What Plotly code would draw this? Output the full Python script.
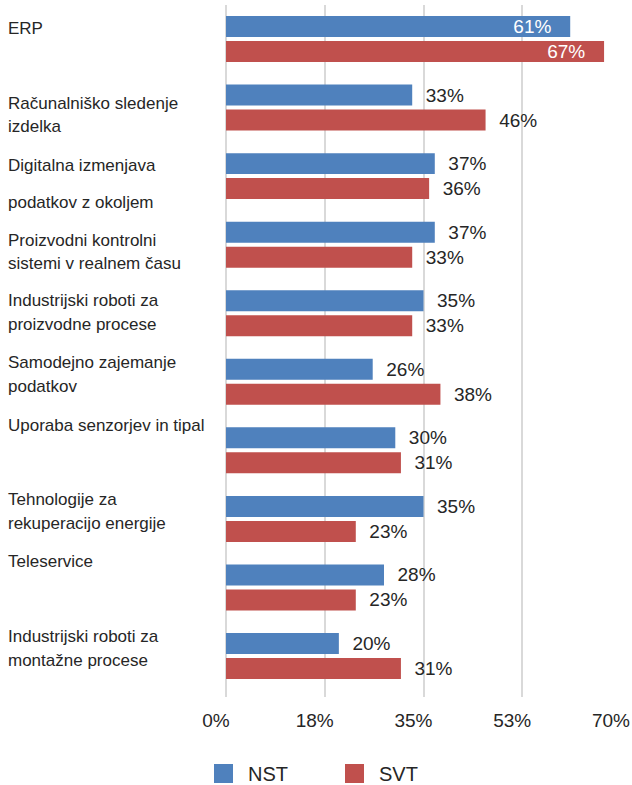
import plotly.graph_objects as go

# ---------------- data ----------------
CATEGORIES = [
    "ERP",
    "Računalniško sledenje izdelka",
    "Digitalna izmenjava podatkov z okoljem",
    "Proizvodni kontrolni sistemi v realnem času",
    "Industrijski roboti za proizvodne procese",
    "Samodejno zajemanje podatkov",
    "Uporaba senzorjev in tipal",
    "Tehnologije za rekuperacijo energije",
    "Teleservice",
    "Industrijski roboti za montažne procese",
]
NST = [61, 33, 37, 37, 35, 26, 30, 35, 28, 20]
SVT = [67, 46, 36, 33, 33, 38, 31, 23, 23, 31]
SERIES_NAMES = ["NST", "SVT"]
X_TICK_VALUES = [0, 17.5, 35, 52.5, 70]
X_TICK_LABELS = ["0%", "18%", "35%", "53%", "70%"]

# ---------------- styles / layout helpers ----------------
BLUE = "#4F81BD"
RED = "#C0504D"
SERIES_COLORS = [BLUE, RED]
TEXT = "#262626"
GRID = "#D9D9D9"
FONT = "Liberation Sans, Arial, Helvetica, sans-serif"
NBSP = "\u00a0"

# how the category labels are broken into lines, and each line's vertical
# offset (px, downward) from the centre of its category band
LABEL_LINES = [
    ["ERP"],
    ["Računalniško sledenje", "izdelka"],
    ["Digitalna izmenjava", "podatkov z okoljem"],
    ["Proizvodni kontrolni", "sistemi v realnem času"],
    ["Industrijski roboti za", "proizvodne procese"],
    ["Samodejno zajemanje", "podatkov"],
    ["Uporaba senzorjev in tipal"],
    ["Tehnologije za", "rekuperacijo energije"],
    ["Teleservice"],
    ["Industrijski roboti za", "montažne procese"],
]
LABEL_OFFSETS = [
    [-11],
    [-4, 19],
    [-11, 26],
    [-4, 19],
    [-13, 11],
    [-19, 5],
    [-25],
    [-19, 5],
    [-26],
    [-20, 4],
]
INSIDE_MIN = 60  # values at or above this get their label inside the bar

# plot-area geometry in pixels (used to place the hand-drawn legend)
W, H = 632, 785
M_L, M_R, M_T, M_B = 226, 11, 5, 88
PW, PH = W - M_L - M_R, H - M_T - M_B


def px_to_paper_x(px):
    return (px - M_L) / PW


def px_to_paper_y(py):
    return (H - M_B - py) / PH


def label_specs(values):
    pos, txt = [], []
    for v in values:
        if v >= INSIDE_MIN:
            pos.append("inside")
            txt.append(f"{v}%" + NBSP * 3)
        else:
            pos.append("outside")
            txt.append(NBSP * 2 + f"{v}%")
    return pos, txt


fig = go.Figure()
for name, vals, color in zip(SERIES_NAMES, [NST, SVT], SERIES_COLORS):
    pos, txt = label_specs(vals)
    fig.add_trace(
        go.Bar(
            name=name,
            y=CATEGORIES,
            x=vals,
            orientation="h",
            marker=dict(color=color, line=dict(width=0)),
            text=txt,
            texttemplate="%{text}",
            textposition=pos,
            insidetextanchor="end",
            insidetextfont=dict(color="white", size=19, family=FONT),
            outsidetextfont=dict(color=TEXT, size=19, family=FONT),
            constraintext="none",
            cliponaxis=False,
            hoverinfo="skip",
            showlegend=False,
        )
    )

annotations = []
for cat, lines, offs in zip(CATEGORIES, LABEL_LINES, LABEL_OFFSETS):
    for line, off in zip(lines, offs):
        annotations.append(
            dict(
                text=line,
                x=-0.557,
                xref="paper",
                xanchor="left",
                y=cat,
                yref="y",
                yanchor="middle",
                yshift=-off,
                showarrow=False,
                align="left",
                font=dict(size=17, color=TEXT, family=FONT),
            )
        )

# legend (drawn with shapes + text so the swatches match the original size)
LEGEND_SWATCH_LEFT = [214, 345]
SWATCH = 19
LEGEND_CY = 773.5
shapes = []
for name, color, left in zip(SERIES_NAMES, SERIES_COLORS, LEGEND_SWATCH_LEFT):
    shapes.append(
        dict(
            type="rect",
            xref="paper",
            yref="paper",
            x0=px_to_paper_x(left),
            x1=px_to_paper_x(left + SWATCH),
            y0=px_to_paper_y(LEGEND_CY - SWATCH / 2),
            y1=px_to_paper_y(LEGEND_CY + SWATCH / 2),
            fillcolor=color,
            line=dict(width=0),
            layer="above",
        )
    )
    annotations.append(
        dict(
            text=name,
            x=px_to_paper_x(left + SWATCH + 13),
            xref="paper",
            xanchor="left",
            y=px_to_paper_y(LEGEND_CY),
            yref="paper",
            yanchor="middle",
            showarrow=False,
            font=dict(size=20, color=TEXT, family=FONT),
        )
    )

fig.update_layout(
    width=W,
    height=H,
    margin=dict(l=M_L, r=M_R, t=M_T, b=M_B, autoexpand=False),
    paper_bgcolor="white",
    plot_bgcolor="white",
    font=dict(family=FONT, color=TEXT),
    barmode="group",
    bargap=0.271,
    bargroupgap=0.16,
    showlegend=False,
    annotations=annotations,
    shapes=shapes,
    xaxis=dict(
        range=[0, 70],
        tickmode="array",
        tickvals=X_TICK_VALUES,
        ticktext=X_TICK_LABELS,
        showgrid=True,
        gridcolor=GRID,
        gridwidth=2,
        zeroline=True,
        zerolinecolor=GRID,
        zerolinewidth=2,
        showline=False,
        ticks="",
        ticklabelstandoff=10,
        ticklabelshift=-10,
        tickfont=dict(size=19, color=TEXT, family=FONT),
        automargin=False,
        fixedrange=True,
    ),
    yaxis=dict(
        type="category",
        categoryorder="array",
        categoryarray=CATEGORIES,
        range=[9.598, -0.496],
        showticklabels=False,
        showgrid=False,
        zeroline=False,
        showline=False,
        ticks="",
        automargin=False,
        fixedrange=True,
    ),
)

fig.write_html("out.html")
